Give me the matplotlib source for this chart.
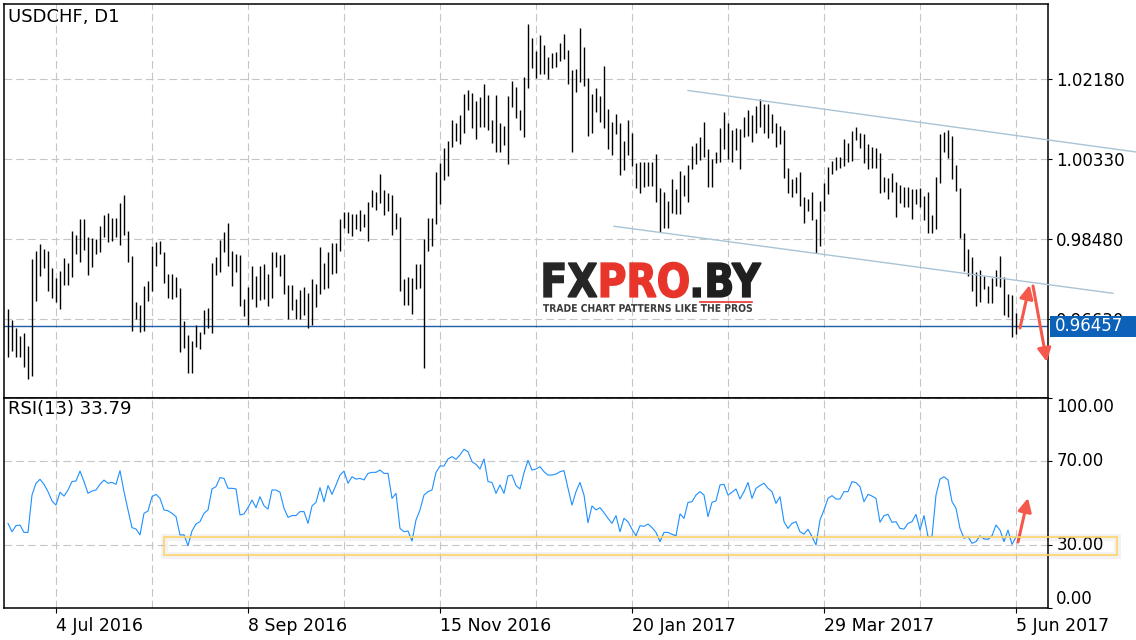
import matplotlib
matplotlib.use('Agg')
import matplotlib.pyplot as plt
import matplotlib.transforms as mtransforms
import numpy as np
from matplotlib.font_manager import FontProperties
from matplotlib.lines import Line2D
from matplotlib.patches import PathPatch, Rectangle
from matplotlib.path import Path
from matplotlib.textpath import TextPath

# USDCHF D1, daily high / low
highs = [0.96854, 0.96607, 0.96414, 0.96237, 0.96299, 0.96006, 0.98010, 0.98210, 0.98357, 0.98241,
         0.98210, 0.97817, 0.97586, 0.97740, 0.98049, 0.97925, 0.98673, 0.98573, 0.98935, 0.98935,
         0.98519, 0.98496, 0.98480, 0.98781, 0.99035, 0.99089, 0.98958, 0.98958, 0.99305, 0.99498,
         0.98665, 0.98087, 0.97023, 0.96954, 0.97401, 0.97509, 0.98318, 0.98403, 0.98442, 0.98172,
         0.97671, 0.97671, 0.97594, 0.97355, 0.96584, 0.96260, 0.96129, 0.96491, 0.96337, 0.96838,
         0.96877, 0.97917, 0.98072, 0.98457, 0.98634, 0.98858, 0.98203, 0.98133, 0.98110, 0.97093,
         0.97378, 0.97856, 0.97625, 0.97856, 0.97902, 0.97671, 0.98172, 0.98172, 0.98110, 0.98133,
         0.97416, 0.97416, 0.97093, 0.97301, 0.97378, 0.97224, 0.97555, 0.97440, 0.98287, 0.97933,
         0.98172, 0.98395, 0.98395, 0.98935, 0.99097, 0.99097, 0.99051, 0.99058, 0.99151, 0.99058,
         0.99344, 0.99613, 0.99559, 0.99983, 0.99613, 0.99536, 0.99498, 0.99074, 0.98997, 0.97555,
         0.97609, 0.97586, 0.97902, 0.97902, 0.98480, 0.98958, 0.98958, 1.00022, 1.00245, 1.00577,
         1.00746, 1.01232, 1.01170, 1.01348, 1.01833, 1.01926, 1.01864, 1.01671, 1.01756, 1.02065,
         1.01810, 1.01232, 1.01810, 1.01155, 1.01093, 1.01787, 1.02134, 1.01987, 1.01463, 1.02219,
         1.03452, 1.03136, 1.02828, 1.03198, 1.02966, 1.02681, 1.02774, 1.02812, 1.03005, 1.03221,
         1.02851, 1.02388, 1.02404, 1.03352, 1.02912, 1.02196, 1.01833, 1.01964, 1.01787, 1.02481,
         1.01479, 1.01194, 1.01363, 1.01155, 1.00746, 1.01232, 1.00924, 1.00230, 1.00253, 1.00253,
         1.00269, 1.00269, 1.00438, 0.99652, 0.99559, 0.99367, 0.99860, 0.99636, 1.00060, 0.99960,
         1.00191, 1.00639, 1.00708, 1.00847, 1.01194, 1.00554, 1.00330, 1.00500, 1.01039, 1.01409,
         1.01155, 1.01001, 1.01039, 1.01016, 1.01309, 1.01463, 1.01348, 1.01556, 1.01710, 1.01602,
         1.01594, 1.01363, 1.01170, 1.01093, 1.01001, 1.00114, 0.99868, 0.99922, 1.00022, 0.99459,
         0.99405, 0.99575, 0.98943, 0.99359, 0.99783, 1.00153, 1.00292, 1.00384, 1.00384, 1.00785,
         1.00692, 1.00978, 1.01063, 1.00924, 1.00908, 1.00677, 1.00615, 1.00592, 1.00477, 0.99906,
         0.99883, 0.99999, 0.99791, 0.99729, 0.99675, 0.99675, 0.99636, 0.99636, 0.99652, 0.99482,
         0.99559, 0.99035, 0.99922, 1.00908, 1.00962, 1.01001, 1.00862, 1.00191, 0.99652, 0.98611,
         0.98241, 0.98072, 0.97725, 0.97763, 0.97632, 0.97401, 0.97586, 0.97763, 0.98087, 0.97609,
         0.97200, 0.97185, 0.96761]
lows = [0.95744, 0.95898, 0.95744, 0.95744, 0.95512, 0.95235, 0.95312, 0.97054, 0.97625, 0.97802,
        0.97285, 0.97124, 0.97031, 0.96854, 0.97409, 0.97416, 0.97609, 0.98133, 0.97956, 0.98226,
        0.97648, 0.97840, 0.98126, 0.98172, 0.98519, 0.98419, 0.98442, 0.98519, 0.98341, 0.98573,
        0.97956, 0.96360, 0.96622, 0.96337, 0.96353, 0.97054, 0.97278, 0.97856, 0.98133, 0.97470,
        0.97124, 0.97085, 0.97147, 0.95875, 0.95967, 0.95389, 0.95389, 0.95990, 0.95936, 0.96276,
        0.96430, 0.96314, 0.97648, 0.97725, 0.98187, 0.97856, 0.97401, 0.97725, 0.96939, 0.96707,
        0.96491, 0.97093, 0.96915, 0.97070, 0.97085, 0.96939, 0.97124, 0.97840, 0.97625, 0.97208,
        0.96622, 0.96838, 0.96622, 0.96622, 0.96723, 0.96414, 0.96491, 0.96915, 0.97208, 0.97324,
        0.97355, 0.97671, 0.97686, 0.98210, 0.98742, 0.98611, 0.98550, 0.98704, 0.98673, 0.98765,
        0.98442, 0.99228, 0.99151, 0.99305, 0.99035, 0.99128, 0.98573, 0.98704, 0.97278, 0.96954,
        0.96954, 0.96746, 0.97316, 0.97355, 0.95505, 0.98210, 0.98318, 0.98827, 0.99290, 0.99845,
        0.99937, 1.00615, 1.00754, 1.00677, 1.00939, 1.01463, 1.01055, 1.00793, 1.01078, 1.01063,
        1.01001, 1.00708, 1.00500, 1.00500, 1.00654, 1.00215, 1.01540, 1.01271, 1.01001, 1.00847,
        1.01964, 1.02427, 1.02196, 1.02296, 1.02296, 1.02180, 1.02427, 1.02450, 1.02596, 1.02635,
        1.02065, 1.00500, 1.01887, 1.02119, 1.02018, 1.00862, 1.00939, 1.01425, 1.01194, 1.01039,
        1.00561, 1.00423, 1.00901, 0.99960, 1.00076, 1.00423, 1.00168, 0.99652, 0.99552, 0.99675,
        0.99706, 0.99706, 0.99344, 0.98650, 0.98727, 0.98727, 0.99074, 0.99051, 0.99051, 0.99475,
        0.99344, 1.00091, 1.00207, 1.00307, 1.00384, 0.99675, 0.99675, 1.00230, 1.00253, 1.00554,
        1.00322, 1.00269, 1.00538, 1.00099, 1.00847, 1.00862, 1.00731, 1.00939, 1.01078, 1.00939,
        1.00824, 1.00939, 1.00615, 1.00669, 0.99883, 0.99536, 0.99444, 0.99536, 0.99243, 0.98858,
        0.99135, 0.98920, 0.98149, 0.98318, 0.99135, 0.99513, 0.99976, 1.00076, 1.00114, 1.00168,
        1.00269, 1.00284, 1.00770, 1.00577, 1.00230, 1.00091, 1.00114, 1.00114, 0.99552, 0.99575,
        0.99405, 0.99575, 0.98997, 0.99305, 0.99212, 0.99212, 0.98943, 0.99290, 0.99228, 0.98920,
        0.98627, 0.98611, 0.98704, 0.99783, 1.00500, 1.00346, 0.99860, 0.99598, 0.98496, 0.97748,
        0.97625, 0.97278, 0.96939, 0.97031, 0.97316, 0.97008, 0.96992, 0.97393, 0.97362, 0.96723,
        0.96669, 0.96222, 0.96276]

# RSI(13)
rsi = [40.3, 36.3, 39.2, 39.5, 36.0, 36.0, 53.8, 59.4, 61.3, 58.9,
       55.4, 51.0, 49.0, 55.1, 53.3, 56.2, 60.2, 60.5, 65.2, 60.2,
       54.6, 55.7, 56.2, 58.9, 60.9, 59.4, 59.8, 58.9, 65.4, 55.4,
       46.7, 38.3, 37.6, 34.8, 45.1, 46.2, 53.0, 54.1, 52.2, 46.7,
       46.3, 45.1, 43.5, 34.8, 34.8, 29.7, 36.7, 40.0, 41.1, 45.1,
       46.7, 56.7, 57.8, 62.1, 61.7, 57.0, 57.0, 56.7, 44.3, 44.8,
       47.8, 51.4, 47.8, 53.0, 48.7, 47.1, 56.2, 56.2, 55.1, 47.5,
       43.2, 44.0, 44.0, 45.9, 45.9, 40.3, 48.6, 50.3, 57.3, 50.6,
       58.3, 54.1, 58.6, 63.3, 65.2, 59.4, 62.5, 61.4, 61.7, 61.0,
       64.1, 64.6, 64.6, 65.7, 64.1, 64.1, 52.2, 54.6, 37.9, 36.3,
       36.7, 31.9, 41.9, 46.7, 53.8, 55.4, 56.2, 64.6, 67.6, 67.6,
       71.0, 72.1, 70.8, 72.9, 75.6, 74.4, 69.7, 68.4, 66.2, 71.0,
       60.2, 59.8, 54.6, 58.6, 54.6, 62.9, 63.3, 58.3, 56.7, 64.4,
       70.3, 65.7, 66.2, 67.3, 64.9, 63.3, 63.3, 63.8, 64.9, 65.4,
       57.0, 49.0, 55.4, 59.8, 53.8, 40.6, 48.6, 46.7, 47.8, 45.4,
       42.7, 40.3, 44.0, 36.3, 42.7, 41.1, 37.5, 34.4, 39.2, 38.9,
       40.0, 38.3, 36.0, 31.6, 36.0, 36.0, 35.1, 34.4, 44.8, 42.7,
       50.3, 50.6, 53.8, 55.4, 53.8, 43.5, 50.3, 51.0, 58.6, 58.9,
       53.8, 55.1, 56.7, 51.9, 55.4, 59.8, 52.2, 57.0, 58.3, 59.4,
       57.0, 55.4, 49.8, 53.0, 41.1, 37.9, 40.3, 41.1, 36.3, 35.2,
       37.5, 34.0, 30.0, 41.9, 46.7, 52.2, 53.5, 51.9, 51.9, 55.4,
       55.4, 60.2, 59.7, 57.8, 50.6, 54.1, 53.3, 52.2, 40.8, 44.0,
       44.6, 40.8, 41.1, 37.9, 37.6, 40.3, 41.1, 44.6, 37.1, 44.0,
       34.0, 34.0, 53.8, 61.4, 62.5, 61.0, 50.6, 47.5, 37.9, 33.2,
       34.0, 30.8, 31.6, 34.4, 32.9, 32.7, 34.4, 39.5, 37.1, 31.6,
       37.1, 30.3, 33.79]

last_price = 0.96457
price_ticks = [1.02180, 1.00330, 0.98480, 0.96630]
rsi_ticks = [0, 30, 70, 100]
date_pos = [12, 60, 108, 156, 204, 252]
date_labels = ['4 Jul 2016', '8 Sep 2016', '15 Nov 2016', '20 Jan 2017', '29 Mar 2017', '5 Jun 2017']
minor_pos = [36, 84, 132, 180, 228]

# channel lines (bar index, price)
upper_line = ([170, 282], [1.01914, 1.00492])
lower_line = ([151.5, 276.25], [0.98774, 0.97224])

W, H = 1136, 640
fig = plt.figure(figsize=(W / 100, H / 100), dpi=100)
ax = fig.add_axes([4 / W, 1 - 398 / H, 1044 / W, 394 / H])
ax2 = fig.add_axes([4 / W, 1 - 608 / H, 1044 / W, 210 / H], sharex=ax)

grid_kw = dict(color='#c6c6c6', lw=0.8, linestyle=(0, (7, 3.6)))
red = '#f4594b'

x = np.arange(len(highs))
ax.vlines(x, lows, highs, color='black', lw=1.0, zorder=3)
ax.axhline(last_price, color='#1f5ca6', lw=1.0, zorder=2)

for xs, ys in (upper_line, lower_line):
    ax.plot(xs, ys, color='#a9c4d5', lw=1.0, clip_on=False, zorder=4)

arrow_kw = dict(arrowstyle='-|>', color=red, lw=2.2, mutation_scale=20, shrinkA=0, shrinkB=0)
ax.annotate('', xy=(255.4, 0.97416), xytext=(253, 0.96422), arrowprops=arrow_kw, annotation_clip=False)
ax.annotate('', xy=(259.7, 0.95636), xytext=(256.25, 0.97393), arrowprops=arrow_kw, annotation_clip=False)

ax.set_yticks(price_ticks)
ax.set_yticklabels([f'{v:.5f}' for v in price_ticks])
ax.yaxis.tick_right()
ax.tick_params(axis='y', length=3, width=0.8, pad=3, labelsize=12)
ax.tick_params(axis='x', which='both', length=0, labelbottom=False)
ax.grid(True, which='both', **grid_kw)

# RSI panel
ax2.plot(x, rsi, color='#1e90ff', lw=0.8, zorder=3)
ax2.annotate('', xy=(255, 52.4), xytext=(252.5, 31.4), arrowprops=arrow_kw, annotation_clip=False)
ax2.add_patch(Rectangle((39, 25.2), 238.25, 8.6, fill=False, edgecolor='black', alpha=0.05,
                        lw=5, clip_on=False, zorder=4))
ax2.add_patch(Rectangle((39, 25.2), 238.25, 8.6, fill=False, edgecolor='#ffd56a',
                        lw=1.2, clip_on=False, zorder=5))

ax2.set_ylim(0, 100)
ax2.set_yticks(rsi_ticks)
ax2.set_yticklabels([f'{v:.2f}' for v in rsi_ticks])
ax2.yaxis.tick_right()
ax2.tick_params(axis='y', length=3, width=0.8, pad=3, labelsize=12)
for lbl, va in zip(ax2.get_yticklabels(), ['bottom', 'center', 'center', 'top']):
    lbl.set_va(va)

ax2.set_xticks(date_pos)
ax2.set_xticklabels(date_labels)
ax2.set_xticks(minor_pos, minor=True)
ax2.tick_params(axis='x', which='major', length=3.5, width=0.8, pad=3, labelsize=12.5)
ax2.tick_params(axis='x', which='minor', length=0)
for lbl in ax2.get_xticklabels():
    lbl.set_ha('left')
ax2.grid(True, which='both', **grid_kw)

for a in (ax, ax2):
    for s in a.spines.values():
        s.set_linewidth(1.1)
        s.set_color('black')

ax.set_xlim(-1, 260)
ax.set_ylim(0.94803, 1.03914)

fig.text(8 / W, 1 - 8 / H, 'USDCHF, D1', fontsize=13, va='top', ha='left')
fig.text(8 / W, 1 - 400 / H, 'RSI(13) 33.79', fontsize=13, va='top', ha='left')

# current price marker on the price scale
blend = mtransforms.blended_transform_factory(fig.transFigure, ax.transData)
box_h = 0.00486
fig.add_artist(Rectangle((1050 / W, last_price - box_h / 2), 86 / W, box_h, transform=blend,
                         facecolor='#0b62b8', edgecolor='none', zorder=5))
fig.text(1055 / W, last_price, f'{last_price:.5f}', transform=blend, color='white',
         fontsize=12, va='center', ha='left', zorder=6)

# watermark logo
fp = FontProperties(family='DejaVu Sans', weight='bold')
full = TextPath((0, 0), 'FXPRO.BY', size=100, prop=fp)
n1 = len(TextPath((0, 0), 'FX', size=100, prop=fp).vertices)
n2 = len(TextPath((0, 0), 'FXPRO', size=100, prop=fp).vertices)
bb = full.get_extents()
tr = (mtransforms.Affine2D().translate(-bb.x0, -bb.y0)
      .scale(217 / bb.width / W, 35 / bb.height / H)
      .translate(544 / W, (H - 297.5) / H) + fig.transFigure)
for (a, b), col in zip([(0, n1), (n1, n2), (n2, None)], ['#262626', '#e8352b', '#1f1f1f']):
    p = Path(full.vertices[a:b], full.codes[a:b])
    ax.add_patch(PathPatch(p, transform=tr, facecolor=col, edgecolor=col, lw=1.1,
                           clip_on=False, zorder=2.5))

tag = TextPath((0, 0), 'TRADE CHART PATTERNS LIKE THE PROS', size=100, prop=fp)
tb = tag.get_extents()
tr2 = (mtransforms.Affine2D().translate(-tb.x0, -tb.y0)
       .scale(209 / tb.width / W, 8 / tb.height / H)
       .translate(543 / W, (H - 312) / H) + fig.transFigure)
ax.add_patch(PathPatch(tag, transform=tr2, facecolor='#3a3a3a', edgecolor='none', clip_on=False, zorder=2.5))
ax.add_artist(Line2D([700 / W, 752 / W], [(H - 301.5) / H] * 2, transform=fig.transFigure,
                     color='#e8352b', lw=1.2, zorder=2.5))

fig.savefig('out.png', dpi=100, facecolor='white')
